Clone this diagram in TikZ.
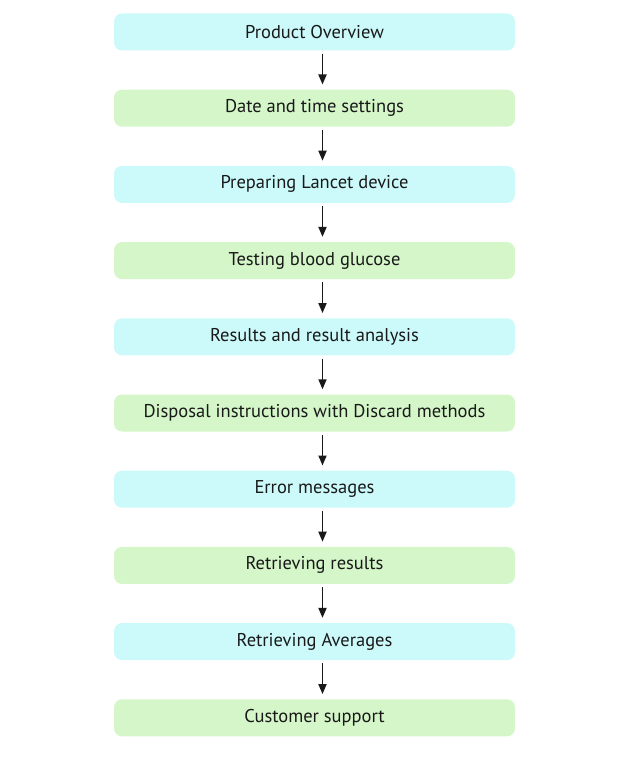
\documentclass[tikz,border=0pt]{standalone}
\usepackage{fontspec}
\setmainfont{PT Sans}
\usetikzlibrary{arrows.meta}
\definecolor{boxcyan}{RGB}{204,250,250}
\definecolor{boxgreen}{RGB}{212,246,200}
\tikzset{
  cyanbox/.style={fill=boxcyan, rounded corners=8pt, minimum width=401pt, minimum height=37pt, font=\fontsize{18.5}{22}\selectfont, text=black!90},
  greenbox/.style={cyanbox, fill=boxgreen},
  flow/.style={-{Triangle[length=10pt,width=8pt]}, line width=1.8pt, black!90}
}
\begin{document}
\begin{tikzpicture}[x=1pt,y=1pt]
    \useasboundingbox (0,0) rectangle (629,-765);
    \node[cyanbox] (overview) at (314.5,-32) {Product Overview};
    \node[greenbox] (datetime) at (314.5,-108.2) {Date and time settings};
    \node[cyanbox] (lancet) at (314.5,-184.4) {Preparing Lancet device};
    \node[greenbox] (testing) at (314.5,-260.6) {Testing blood glucose};
    \node[cyanbox] (results) at (314.5,-336.8) {Results and result analysis};
    \node[greenbox] (disposal) at (314.5,-413) {Disposal instructions with Discard methods};
    \node[cyanbox] (errors) at (314.5,-489.2) {Error messages};
    \node[greenbox] (retrieve) at (314.5,-565.4) {Retrieving results};
    \node[cyanbox] (averages) at (314.5,-641.6) {Retrieving Averages};
    \node[greenbox] (support) at (314.5,-717.8) {Customer support};
    \draw[flow] ([xshift=8pt,yshift=-3pt]overview.south) -- ([xshift=8pt,yshift=5pt]datetime.north);
    \draw[flow] ([xshift=8pt,yshift=-3pt]datetime.south) -- ([xshift=8pt,yshift=5pt]lancet.north);
    \draw[flow] ([xshift=8pt,yshift=-3pt]lancet.south) -- ([xshift=8pt,yshift=5pt]testing.north);
    \draw[flow] ([xshift=8pt,yshift=-3pt]testing.south) -- ([xshift=8pt,yshift=5pt]results.north);
    \draw[flow] ([xshift=8pt,yshift=-3pt]results.south) -- ([xshift=8pt,yshift=5pt]disposal.north);
    \draw[flow] ([xshift=8pt,yshift=-3pt]disposal.south) -- ([xshift=8pt,yshift=5pt]errors.north);
    \draw[flow] ([xshift=8pt,yshift=-3pt]errors.south) -- ([xshift=8pt,yshift=5pt]retrieve.north);
    \draw[flow] ([xshift=8pt,yshift=-3pt]retrieve.south) -- ([xshift=8pt,yshift=5pt]averages.north);
    \draw[flow] ([xshift=8pt,yshift=-3pt]averages.south) -- ([xshift=8pt,yshift=5pt]support.north);
\end{tikzpicture}
\end{document}
